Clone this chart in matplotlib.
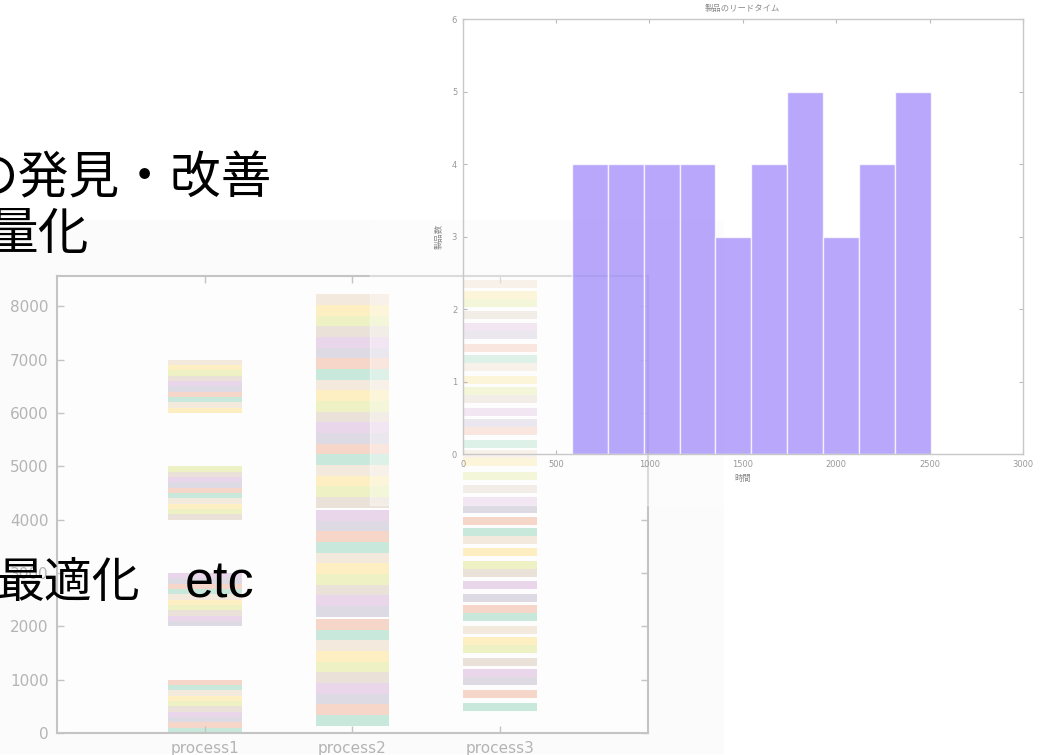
import matplotlib
matplotlib.use("Agg")
import numpy as np
import matplotlib.pyplot as plt
from matplotlib.patches import Rectangle

W, H = 1046, 755

# gantt-like chart: start time of each of the 40 products in each process
processes = ["process1", "process2", "process3"]
p1_start = [0, 100, 200, 300, 400, 500, 600, 700, 800, 900,
            2000, 2100, 2200, 2300, 2400, 2500, 2600, 2700, 2800, 2900,
            4000, 4100, 4200, 4300, 4400, 4500, 4600, 4700, 4800, 4900,
            6000, 6100, 6200, 6300, 6400, 6500, 6600, 6700, 6800, 6900]
p2_start = [140, 340, 540, 740, 940, 1140, 1340, 1540, 1740, 1940,
            2180, 2380, 2580, 2780, 2980, 3180, 3380, 3580, 3780, 3980,
            4225, 4425, 4625, 4825, 5025, 5225, 5425, 5625, 5825, 6025,
            6225, 6425, 6625, 6825, 7025, 7225, 7425, 7625, 7825, 8025]
p3_start = [420, 660, 900, 1050, 1260, 1500, 1650, 1860, 2100, 2250,
            2460, 2700, 2930, 3080, 3310, 3550, 3700, 3900, 4130, 4280,
            4510, 4740, 5000, 5150, 5350, 5580, 5730, 5940, 6180, 6330,
            6550, 6780, 6930, 7140, 7380, 7530, 7760, 7980, 8130, 8340]
durations = [100, 200, 150]

product_colors = ["#c8e8dc", "#f6d6c9", "#dddae3", "#e9d6ea",
                  "#eae2d8", "#edf1c3", "#fdefc1", "#f3e9dd"]

# histogram of lead times
hist_edges = [585, 777, 969, 1161, 1353, 1545, 1737, 1929, 2121, 2313, 2505]
hist_counts = [4, 4, 4, 4, 3, 4, 5, 3, 4, 5]


def box(x0, y0, x1, y1):
    return [x0 / W, 1 - y1 / H, (x1 - x0) / W, (y1 - y0) / H]


fig = plt.figure(figsize=(W / 100, H / 100), dpi=100)
fig.patch.set_facecolor("white")

# faint panel behind the process chart screenshot
fig.patches.append(Rectangle((0, 1 - 753 / H), 723 / W, (753 - 220) / H,
                             transform=fig.transFigure, color="#fbfbfb",
                             zorder=0.5))

ax = fig.add_axes(box(57, 276, 648, 733), zorder=1)
ax.set_facecolor("#fdfdfd")
all_starts = [p1_start, p2_start, p3_start]
bar_colors = [product_colors[i % len(product_colors)] for i in range(len(p1_start))]
for j, starts in enumerate(all_starts):
    ax.bar([j + 1] * len(starts), [durations[j]] * len(starts), bottom=starts,
           width=0.5, color=bar_colors, linewidth=0)
ax.set_xlim(0, 4)
ax.set_ylim(0, 8570)
ax.set_xticks([1, 2, 3])
ax.set_xticklabels(processes)
ax.set_yticks(range(0, 8001, 1000))
ax.tick_params(direction="in", top=True, right=True, length=5, width=1,
               color="#c4c4c4", labelcolor="#b4b4b4", labelsize=11, pad=6)
for s in ax.spines.values():
    s.set_color("#c4c4c4")
    s.set_linewidth(1.5)

# semi-transparent screenshot of the histogram on top
fig.patches.append(Rectangle((370 / W, 1 - 505 / H), (W - 370) / W, 505 / H,
                             transform=fig.transFigure, color="white",
                             alpha=0.4, zorder=2))

axh = fig.add_axes(box(462.7, 19, 1023, 454), zorder=3)
axh.set_facecolor("none")
axh.hist(hist_edges[:-1], bins=hist_edges, weights=hist_counts,
         color="#a08afa", alpha=0.75, edgecolor="white", linewidth=1)
axh.set_xlim(0, 3000)
axh.set_ylim(0, 6)
axh.set_xticks(range(0, 3001, 500))
axh.set_yticks(range(0, 7))
axh.tick_params(direction="in", top=True, right=True, length=3, width=0.8,
                color="#bbbbbb", labelcolor="#999999", labelsize=6, pad=4)
for s in axh.spines.values():
    s.set_color("#c8c8c8")
    s.set_linewidth(1)
cjk = ["Noto Sans CJK JP", "DejaVu Sans"]
axh.set_title("製品のリードタイム", family=cjk, fontsize=6, color="#888888", pad=6)
axh.set_xlabel("時間", family=cjk, fontsize=6, color="#888888", labelpad=4)
axh.set_ylabel("製品数", family=cjk, fontsize=6, color="#888888", labelpad=6)

# slide text behind / around the charts
fig.text(-32 / W, 1 - 193 / H, "の発見・改善", family=cjk, fontsize=36.5,
         color="black", va="baseline", zorder=5)
fig.text(-12 / W, 1 - 249 / H, "量化", family=cjk, fontsize=36.5,
         color="black", va="baseline", zorder=5)
fig.text(-3 / W, 1 - 597 / H, "最適化", family=cjk, fontsize=34.5,
         color="black", va="baseline", zorder=5)
fig.text(185 / W, 1 - 597 / H, "etc", family=["Liberation Sans", "DejaVu Sans"],
         fontsize=37.5, color="black", va="baseline", zorder=5)

fig.savefig("out.png", dpi=100)
